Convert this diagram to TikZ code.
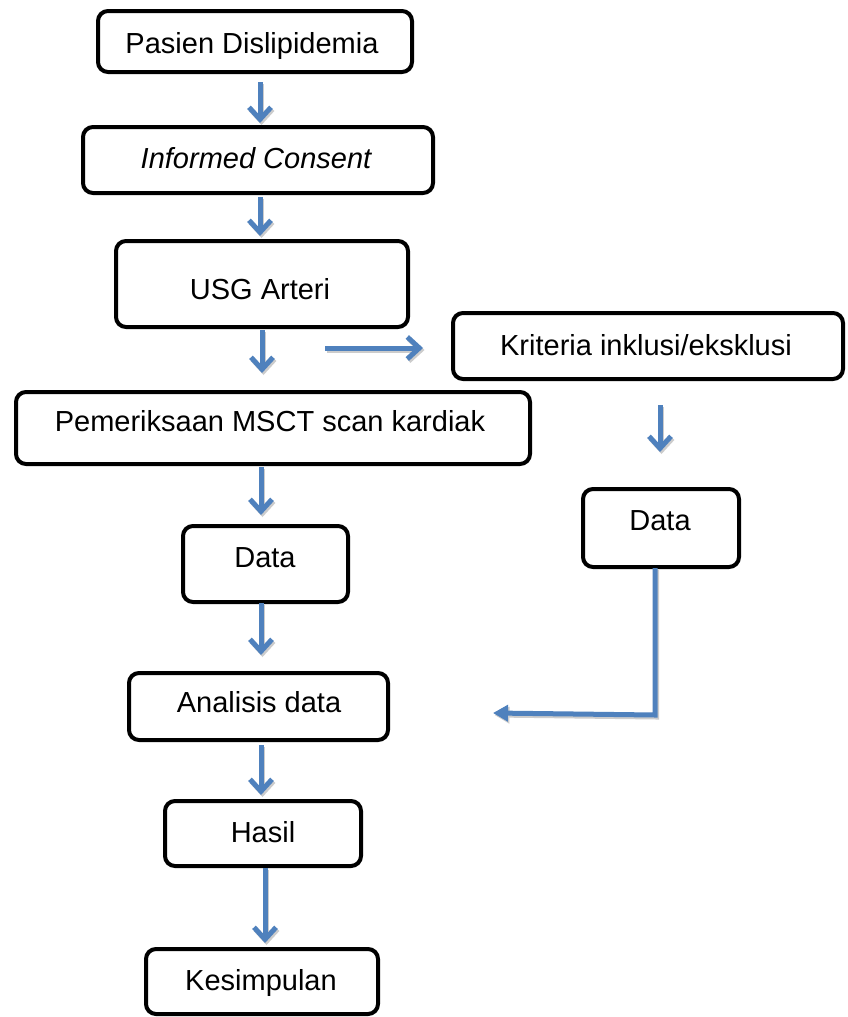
\documentclass[tikz,border=0pt]{standalone}
\usepackage{fontspec}
\setmainfont{Liberation Sans}
\usetikzlibrary{arrows.meta}
\definecolor{arrblue}{HTML}{4F81BD}
\begin{document}
\begin{tikzpicture}[x=1pt,y=-1pt,
  boxnode/.style={draw=black, line width=4pt, rounded corners=10pt, rectangle, inner sep=0pt},
  lbl/.style={inner sep=0pt, text height=21pt, text depth=0pt, font=\fontsize{29pt}{34pt}\selectfont},
  flow/.style={draw=arrblue, line width=5pt, -{Straight Barb[length=12pt,width=22pt]}},
  flowsh/.style={draw=black!20, line width=5pt, -{Straight Barb[length=12pt,width=22pt]}, transform canvas={xshift=1.5pt,yshift=-2pt}},
  elbow/.style={draw=arrblue, line width=5pt, -{Triangle[length=15pt,width=16pt]}},
  elbowsh/.style={draw=black!20, line width=5pt, -{Triangle[length=15pt,width=16pt]}, transform canvas={xshift=1.5pt,yshift=-2pt}},
]
\useasboundingbox (0,0) rectangle (848,1017);
\clip (0,0) rectangle (848,1017);
\fill[white] (0,0) rectangle (848,1017);

% boxes
\node[boxnode, minimum width=314pt, minimum height=61pt] (p1) at (255,41.5) {};
\node[boxnode, minimum width=350pt, minimum height=66pt] (p2) at (258,160) {};
\node[boxnode, minimum width=292pt, minimum height=86pt] (p3) at (262,284) {};
\node[boxnode, minimum width=390pt, minimum height=66pt] (p4) at (648,346) {};
\node[boxnode, minimum width=514pt, minimum height=72pt] (p5) at (273,428) {};
\node[boxnode, minimum width=165pt, minimum height=76pt] (p6) at (265.5,564) {};
\node[boxnode, minimum width=156pt, minimum height=78pt] (p7) at (661,528) {};
\node[boxnode, minimum width=259pt, minimum height=67pt] (p8) at (258.5,706.5) {};
\node[boxnode, minimum width=196pt, minimum height=65pt] (p9) at (263,833.5) {};
\node[boxnode, minimum width=232pt, minimum height=65pt] (p10) at (262,981.5) {};

% texts
\node[lbl] (t1) at (252,43) {Pasien Dislipidemia};
\node[lbl] (t2) at (256,158) {\itshape Informed Consent};
\node[lbl] (t3) at (260,289) {USG Arteri};
\node[lbl] (t4) at (646,345) {Kriteria inklusi/eksklusi};
\node[lbl] (t5) at (270,421) {Pemeriksaan MSCT scan kardiak};
\node[lbl] (t6) at (265,557) {Data};
\node[lbl] (t7) at (660,520) {Data};
\node[lbl] (t8) at (259,702) {Analisis data};
\node[lbl] (t9) at (263,832) {Hasil};
\node[lbl] (t10) at (261,980) {Kesimpulan};

% arrow end points
\coordinate (a1s) at (260,82);  \coordinate (a1e) at (260,123);
\coordinate (a2s) at (260,197); \coordinate (a2e) at (260,236);
\coordinate (a3s) at (262,330); \coordinate (a3e) at (262,373);
\coordinate (ahs) at (325,348); \coordinate (ahe) at (423,348);
\coordinate (a4s) at (660,405); \coordinate (a4e) at (660,452);
\coordinate (a5s) at (261,467); \coordinate (a5e) at (261,515);
\coordinate (a6s) at (261,603); \coordinate (a6e) at (261,655);
\coordinate (a7s) at (261,745); \coordinate (a7e) at (261,795);
\coordinate (a8s) at (265,868); \coordinate (a8e) at (265,943);
\coordinate (ls) at (655,568);  \coordinate (lc) at (655,715);
\coordinate (le) at (493,713);

\foreach \s/\e in {a1s/a1e,a2s/a2e,a3s/a3e,ahs/ahe,a4s/a4e,a5s/a5e,a6s/a6e,a7s/a7e,a8s/a8e}{
  \draw[flowsh] (\s) -- (\e);
  \draw[flow] (\s) -- (\e);
}
\draw[elbowsh] (ls) -- (lc) -- (le);
\draw[elbow] (ls) -- (lc) -- (le);
\end{tikzpicture}
\end{document}
